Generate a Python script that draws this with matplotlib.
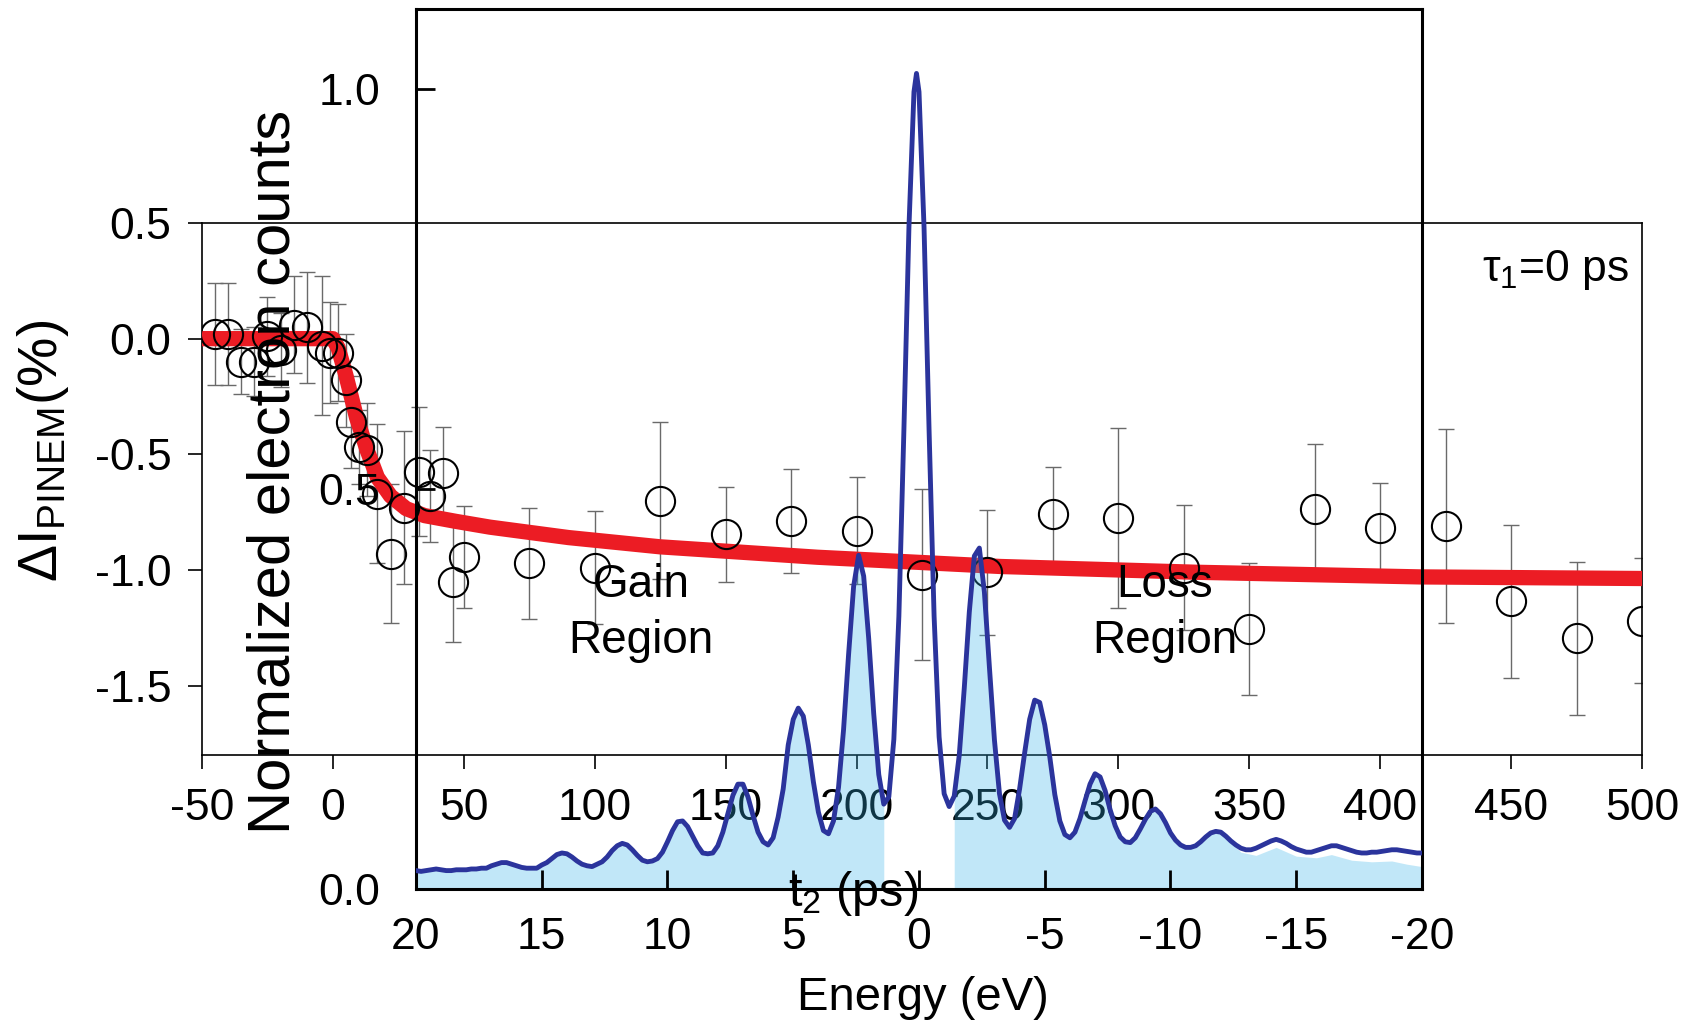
import numpy as np
import matplotlib
matplotlib.use("Agg")
import matplotlib.pyplot as plt
from matplotlib import font_manager

# PINEM difference signal vs. delay t2
t_ps = [-45, -40, -35, -30, -25, -20, -15, -10, -4, -1, 2, 5, 7, 10, 13, 17, 22, 27, 33, 37, 42, 46, 50,
        75, 100, 125, 150, 175, 200, 225, 250, 275, 300, 325, 350, 375, 400, 425, 450, 475, 500]
dI = [0.02, 0.02, -0.10, -0.10, 0.01, -0.05, 0.06, 0.05, -0.03, -0.06, -0.06, -0.18, -0.36, -0.47, -0.48,
      -0.67, -0.93, -0.73, -0.575, -0.68, -0.58, -1.05, -0.945,
      -0.97, -0.99, -0.70, -0.845, -0.79, -0.83, -1.02, -1.01, -0.76, -0.775, -0.99, -1.255, -0.735,
      -0.82, -0.81, -1.135, -1.295, -1.22]
dI_err = [0.22, 0.22, 0.14, 0.15, 0.17, 0.16, 0.21, 0.24, 0.30, 0.22, 0.21, 0.20, 0.20, 0.16, 0.20, 0.30,
          0.30, 0.33, 0.28, 0.20, 0.20, 0.26, 0.22,
          0.24, 0.245, 0.34, 0.205, 0.225, 0.23, 0.37, 0.27, 0.205, 0.39, 0.27, 0.285, 0.28, 0.195,
          0.42, 0.33, 0.33, 0.27]

# fit curve
fit_t = [-50, 0, 2, 5, 9, 13, 17, 22, 28, 35, 47, 60, 90, 125, 185, 255, 330, 415, 500]
fit_y = [0, 0, -0.04, -0.16, -0.34, -0.48, -0.60, -0.68, -0.735, -0.765, -0.79, -0.815, -0.86,
         -0.90, -0.945, -0.985, -1.01, -1.03, -1.037]

# electron energy spectrum (inset)
energy = [20.0, 19.8, 19.6, 19.4, 19.2, 19.0, 18.8, 18.6, 18.4, 18.2,
          18.0, 17.8, 17.6, 17.4, 17.2, 17.0, 16.8, 16.6, 16.4, 16.2,
          16.0, 15.8, 15.6, 15.4, 15.2, 15.0, 14.8, 14.6, 14.4, 14.2,
          14.0, 13.8, 13.6, 13.4, 13.2, 13.0, 12.8, 12.6, 12.4, 12.2,
          12.0, 11.8, 11.6, 11.4, 11.2, 11.0, 10.8, 10.6, 10.4, 10.2,
          10.0, 9.8, 9.6, 9.4, 9.2, 9.0, 8.8, 8.6, 8.4, 8.2,
          8.0, 7.8, 7.6, 7.4, 7.2, 7.0, 6.8, 6.6, 6.4, 6.2,
          6.0, 5.8, 5.6, 5.4, 5.2, 5.0, 4.8, 4.6, 4.4, 4.2,
          4.0, 3.8, 3.6, 3.4, 3.2, 3.0, 2.8, 2.6, 2.4, 2.2,
          2.0, 1.8, 1.6, 1.4, 1.2, 1.0, 0.8, 0.6, 0.4, 0.2,
          0.1, 0.0, -0.2, -0.4, -0.6, -0.8, -1.0, -1.2, -1.4, -1.6,
          -1.8, -2.0, -2.2, -2.4, -2.6, -2.8, -3.0, -3.2, -3.4, -3.6,
          -3.8, -4.0, -4.2, -4.4, -4.6, -4.8, -5.0, -5.2, -5.4, -5.6,
          -5.8, -6.0, -6.2, -6.4, -6.6, -6.8, -7.0, -7.2, -7.4, -7.6,
          -7.8, -8.0, -8.2, -8.4, -8.6, -8.8, -9.0, -9.2, -9.4, -9.6,
          -9.8, -10.0, -10.2, -10.4, -10.6, -10.8, -11.0, -11.2, -11.4, -11.6,
          -11.8, -12.0, -12.2, -12.4, -12.6, -12.8, -13.0, -13.2, -13.4, -13.6,
          -13.8, -14.0, -14.2, -14.4, -14.6, -14.8, -15.0, -15.2, -15.4, -15.6,
          -15.8, -16.0, -16.2, -16.4, -16.6, -16.8, -17.0, -17.2, -17.4, -17.6,
          -17.8, -18.0, -18.2, -18.4, -18.6, -18.8, -19.0, -19.2, -19.4, -19.6,
          -19.8, -20.0]
counts = [0.023, 0.022, 0.023, 0.024, 0.025, 0.024, 0.023, 0.023, 0.024, 0.024,
          0.024, 0.025, 0.025, 0.026, 0.026, 0.029, 0.031, 0.033, 0.033, 0.031,
          0.029, 0.027, 0.026, 0.026, 0.026, 0.030, 0.033, 0.038, 0.043, 0.045,
          0.044, 0.040, 0.035, 0.031, 0.029, 0.028, 0.031, 0.034, 0.040, 0.048,
          0.054, 0.057, 0.055, 0.049, 0.042, 0.036, 0.034, 0.035, 0.038, 0.046,
          0.059, 0.073, 0.084, 0.085, 0.078, 0.066, 0.054, 0.045, 0.044, 0.045,
          0.054, 0.071, 0.094, 0.117, 0.131, 0.131, 0.115, 0.092, 0.071, 0.059,
          0.055, 0.064, 0.090, 0.125, 0.180, 0.212, 0.226, 0.216, 0.180, 0.134,
          0.096, 0.073, 0.069, 0.085, 0.127, 0.199, 0.293, 0.378, 0.417, 0.391,
          0.313, 0.219, 0.143, 0.106, 0.115, 0.187, 0.341, 0.574, 0.827, 0.996,
          1.019, 0.996, 0.827, 0.574, 0.341, 0.190, 0.119, 0.103, 0.116, 0.167,
          0.251, 0.346, 0.416, 0.426, 0.371, 0.277, 0.186, 0.119, 0.086, 0.077,
          0.088, 0.125, 0.170, 0.212, 0.236, 0.233, 0.205, 0.165, 0.118, 0.085,
          0.068, 0.064, 0.071, 0.088, 0.110, 0.131, 0.144, 0.140, 0.123, 0.099,
          0.079, 0.065, 0.059, 0.058, 0.064, 0.075, 0.087, 0.097, 0.100, 0.094,
          0.083, 0.070, 0.061, 0.055, 0.052, 0.052, 0.054, 0.059, 0.065, 0.070,
          0.072, 0.071, 0.066, 0.060, 0.055, 0.051, 0.049, 0.049, 0.051, 0.054,
          0.057, 0.060, 0.062, 0.060, 0.057, 0.053, 0.050, 0.048, 0.046, 0.046,
          0.048, 0.050, 0.052, 0.054, 0.054, 0.052, 0.050, 0.048, 0.046, 0.045,
          0.045, 0.046, 0.046, 0.047, 0.048, 0.049, 0.049, 0.048, 0.047, 0.046,
          0.045, 0.045]
# shaded area sits a little below the line in the far loss tail
tail_energy = [-12.4, -12.8, -13.4, -14.2, -15.0, -15.8, -16.4, -17.2, -18.0, -18.8, -19.4, -20.0]
tail_fill = [0.058, 0.046, 0.042, 0.052, 0.041, 0.039, 0.043, 0.036, 0.034, 0.035, 0.031, 0.028]

t_ticks = list(range(-50, 501, 50))
dI_ticks = [-1.5, -1.0, -0.5, 0.0, 0.5]
e_ticks = [20, 15, 10, 5, 0, -5, -10, -15, -20]
c_ticks = [0.0, 0.5, 1.0]

names = {f.name for f in font_manager.fontManager.ttflist}
if "Liberation Sans Narrow" in names:
    tick_font, tick_size = "Liberation Sans Narrow", 35
else:
    tick_font, tick_size = "Liberation Sans", 32

plt.rcParams["font.family"] = ["Liberation Sans", "DejaVu Sans"]
plt.rcParams["axes.unicode_minus"] = False
plt.rcParams["mathtext.fontset"] = "custom"
plt.rcParams["mathtext.rm"] = "Liberation Sans"
plt.rcParams["mathtext.it"] = "Liberation Sans:italic"
plt.rcParams["mathtext.bf"] = "Liberation Sans:bold"

W, H = 1683, 1028
fig = plt.figure(figsize=(W / 100, H / 100), dpi=100, facecolor="white")

# main axes
ax = fig.add_axes([202 / W, 1 - 755 / H, 1440 / W, 532 / H])
ax.errorbar(t_ps, dI, yerr=dI_err, fmt="none", ecolor="#6a6a6a", elinewidth=1.0,
            capsize=6, capthick=1.0, zorder=2)
ax.plot(fit_t, fit_y, color="#ec1c24", lw=11, solid_joinstyle="round", zorder=3)
ax.plot(t_ps, dI, "o", ms=21, mfc="none", mec="black", mew=1.5, zorder=4)
ax.set_xlim(-50, 500)
ax.set_ylim(-1.8, 0.5)
ax.set_xticks(t_ticks)
ax.set_xticklabels([str(v) for v in t_ticks])
ax.set_yticks(dI_ticks)
ax.set_yticklabels(["%.1f" % v for v in dI_ticks])
ax.tick_params(direction="out", length=10, width=1.2, labelsize=tick_size,
               labelfontfamily=tick_font)
ax.tick_params(axis="x", pad=14)
ax.tick_params(axis="y", pad=12)
for s in ax.spines.values():
    s.set_linewidth(1.2)

# inset spectrum, drawn on top; the shading is translucent so the
# labels of the main axes show through it
ax2 = fig.add_axes([416 / W, 1 - 889 / H, 1006 / W, 880.4 / H])
ax2.patch.set_visible(False)
e = np.array(energy)
c = np.array(counts)
fill_col = (52 / 255, 178 / 255, 232 / 255)
gain = e >= 1.4
ax2.fill_between(e[gain], 0, c[gain], color=fill_col, alpha=0.3, lw=0, zorder=1)
loss = (e <= -1.4) & (e > -12.4)
ax2.fill_between(np.concatenate([e[loss], tail_energy]), 0,
                 np.concatenate([c[loss], tail_fill]),
                 color=fill_col, alpha=0.3, lw=0, zorder=1)
ax2.plot(e, c, color="#2b349c", lw=3.5, zorder=3)
ax2.set_xlim(20, -20)
ax2.set_ylim(0, 1.1)
ax2.set_xticks(e_ticks)
ax2.set_xticklabels([str(v) for v in e_ticks])
ax2.set_yticks(c_ticks)
ax2.set_yticklabels(["%.1f" % v for v in c_ticks])
ax2.tick_params(direction="in", length=14, width=2, labelsize=tick_size,
                labelfontfamily=tick_font)
ax2.tick_params(axis="x", pad=20)
ax2.tick_params(axis="y", pad=26)
for s in ax2.spines.values():
    s.set_linewidth(2.2)

# labels and annotations
fig.text(43 / W, 1 - 451 / H, "ΔI$_{\\mathrm{PINEM}}$(%)", rotation=90,
         ha="center", va="center", fontsize=40)
fig.text(274 / W, 1 - 472 / H, "Normalized electron counts", rotation=90,
         ha="center", va="center", fontsize=43)
fig.text(853 / W, 1 - 893 / H, "t$_{\\mathrm{2}}$ (ps)", ha="center", va="center", fontsize=35)
fig.text(923 / W, 1 - 998 / H, "Energy (eV)", ha="center", va="center", fontsize=34)
fig.text(1629 / W, 1 - 281 / H, "τ$_{\\mathrm{1}}$=0 ps", ha="right", va="baseline", fontsize=32)
for x0, word in [(641, "Gain"), (1165, "Loss")]:
    fig.text(x0 / W, 1 - 585 / H, word, ha="center", va="center", fontsize=33)
    fig.text(x0 / W, 1 - 641 / H, "Region", ha="center", va="center", fontsize=33)

fig.savefig("out.png", dpi=100, facecolor="white")
